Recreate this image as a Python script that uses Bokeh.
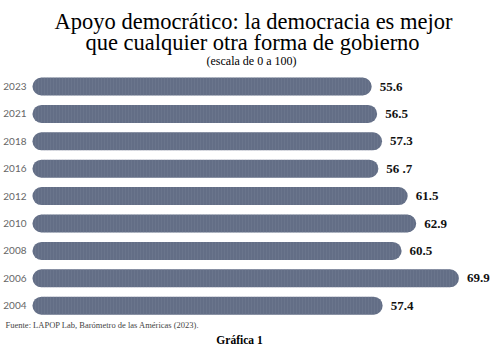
from bokeh.plotting import figure
from bokeh.models import Range1d, ColumnDataSource, Label
from bokeh.core.properties import value
from bokeh.embed import file_html
from bokeh.resources import INLINE

years = ["2023", "2021", "2018", "2016", "2012", "2010", "2008", "2006", "2004"]
values = [55.6, 56.5, 57.3, 56.7, 61.5, 62.9, 60.5, 69.9, 57.4]
value_labels = ["55.6", "56.5", "57.3", "56 .7", "61.5", "62.9", "60.5", "69.9", "57.4"]

idx = list(range(len(years)))
src = ColumnDataSource(dict(y=idx, v=values, year=years, lab=value_labels, zero=[0] * len(years)))

PX = 6.1  # pixels per unit
p = figure(width=500, height=350, output_backend="svg", toolbar_location=None,
           x_range=Range1d(-32 / PX, (500 - 32) / PX),
           y_range=Range1d((350 - 86) / 27.4, -86 / 27.4),
           min_border=0, background_fill_color="white", border_fill_color="white")
p.axis.visible = False
p.grid.visible = False
p.outline_line_color = None

p.hbar(y="y", left="zero", right="v", height=18 / 27.4, source=src,
       fill_color="#636e86", line_color=None, border_radius=9,
       hatch_pattern="|", hatch_color="#7d879c", hatch_scale=3, hatch_weight=0.6, hatch_alpha=0.45)

p.text(x="zero", y="y", text="year", source=src, x_offset=-6,
       text_align="right", text_baseline="middle", text_font=value("Lato"),
       text_font_size="10px", text_color="#666666")
p.text(x="v", y="y", text="lab", source=src, x_offset=8,
       text_align="left", text_baseline="middle", text_font=value("Liberation Serif"),
       text_font_size="13px", text_font_style="bold", text_color="#111111")

def lab(text, x, y, size, style="normal", align="center", color="#000000", font="Liberation Serif"):
    p.add_layout(Label(x=x, y=y, x_units="screen", y_units="screen", text=text,
                       text_font=font, text_font_size=size, text_font_style=style,
                       text_align=align, text_baseline="middle", text_color=color))

lab("Apoyo democrático: la democracia es mejor", 253, 350 - 21, "22.5px")
lab("que cualquier otra forma de gobierno", 252, 350 - 42, "22.5px")
lab("(escala de 0 a 100)", 251, 350 - 60, "12px")
lab("Fuente: LAPOP Lab, Barómetro de las Américas (2023).", 5, 350 - 324, "8.5px", align="left", color="#444444")
lab("Gráfica 1", 239, 350 - 339, "11.5px", style="bold")

open("out.html", "w").write(file_html(p, INLINE))
